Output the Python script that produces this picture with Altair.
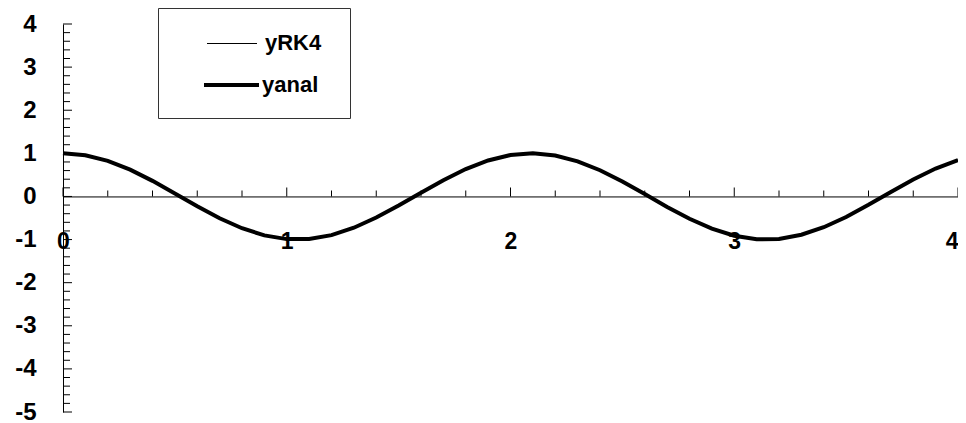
import altair as alt
import pandas as pd

# ---- data ----
x_vals = [0.0, 0.1, 0.2, 0.3, 0.4, 0.5, 0.6, 0.7, 0.8, 0.9,
          1.0, 1.1, 1.2, 1.3, 1.4, 1.5, 1.6, 1.7, 1.8, 1.9,
          2.0, 2.1, 2.2, 2.3, 2.4, 2.5, 2.6, 2.7, 2.8, 2.9,
          3.0, 3.1, 3.2, 3.3, 3.4, 3.5, 3.6, 3.7, 3.8, 3.9, 4.0]
y_rk4 = [1.000, 0.955, 0.825, 0.622, 0.362, 0.071, -0.227, -0.505, -0.737, -0.904,
         -0.990, -0.987, -0.897, -0.726, -0.490, -0.211, 0.087, 0.378, 0.635, 0.835,
         0.960, 1.000, 0.951, 0.815, 0.608, 0.347, 0.054, -0.243, -0.519, -0.747,
         -0.911, -0.994, -0.985, -0.889, -0.714, -0.476, -0.194, 0.104, 0.393, 0.647, 0.844]
y_anal = [1.000, 0.955, 0.825, 0.622, 0.362, 0.071, -0.227, -0.505, -0.737, -0.904,
          -0.990, -0.987, -0.897, -0.726, -0.490, -0.211, 0.087, 0.378, 0.635, 0.835,
          0.960, 1.000, 0.951, 0.815, 0.608, 0.347, 0.054, -0.243, -0.519, -0.747,
          -0.911, -0.994, -0.985, -0.889, -0.714, -0.476, -0.194, 0.104, 0.393, 0.647, 0.844]
series_names = ["yRK4", "yanal"]

x_major = [0, 1, 2, 3, 4]
x_minor = [0.2, 0.4, 0.6, 0.8, 1.2, 1.4, 1.6, 1.8, 2.2, 2.4, 2.6, 2.8,
           3.2, 3.4, 3.6, 3.8]
y_major = [-5, -4, -3, -2, -1, 0, 1, 2, 3, 4]
y_minor = [-4.8, -4.6, -4.4, -4.2, -3.8, -3.6, -3.4, -3.2, -2.8, -2.6, -2.4, -2.2,
           -1.8, -1.6, -1.4, -1.2, -0.8, -0.6, -0.4, -0.2, 0.2, 0.4, 0.6, 0.8,
           1.2, 1.4, 1.6, 1.8, 2.2, 2.4, 2.6, 2.8, 3.2, 3.4, 3.6, 3.8]

FONT = "Liberation Sans"
W, H = 895, 388
Y_DOMAIN = [-5, 4]

df = pd.DataFrame({"x": x_vals, "yRK4": y_rk4, "yanal": y_anal})
xs = alt.Scale(domain=[0, 4], nice=False, zero=False)
ys = alt.Scale(domain=Y_DOMAIN, nice=False, zero=False)

x_axis = alt.Axis(values=x_major, title=None, grid=False, ticks=False,
                  offset=-H * (0 - Y_DOMAIN[0]) / (Y_DOMAIN[1] - Y_DOMAIN[0]),
                  labelPadding=34, labelFont=FONT, labelFontSize=23,
                  labelFontWeight="bold", labelColor="black", labelFlush=False,
                  labelOverlap=False, domainColor="black", domainWidth=1,
                  labelExpr="'' + datum.value",
                  labelAlign={"condition": {"test": "datum.value == 4", "value": "right"},
                              "value": "center"})
y_axis = alt.Axis(values=y_major, title=None, grid=False, ticks=False,
                  labelPadding=27, labelFont=FONT, labelFontSize=24,
                  labelFontWeight="bold", labelColor="black", labelFlush=False,
                  labelOverlap=False, domainColor="black", domainWidth=1,
                  labelExpr="'' + datum.value")


def X(field):
    return alt.X(field, scale=xs, axis=x_axis)


def Y(field):
    return alt.Y(field, scale=ys, axis=y_axis)


line_rk4 = alt.Chart(df).mark_line(color="black", strokeWidth=1).encode(
    x=X("x:Q"), y=Y("yRK4:Q"))
line_anal = alt.Chart(df).mark_line(color="black", strokeWidth=4).encode(
    x=X("x:Q"), y=Y("yanal:Q"))

# axis ticks (Excel style: pointing into the plot)
xt_maj = pd.DataFrame({"t": x_major, "z": [0] * len(x_major)})
xt_min = pd.DataFrame({"t": x_minor, "z": [0] * len(x_minor)})
yt_maj = pd.DataFrame({"t": y_major, "z": [0] * len(y_major)})
yt_min = pd.DataFrame({"t": y_minor, "z": [0] * len(y_minor)})


def xticks(d, size):
    return alt.Chart(d).mark_tick(orient="vertical", size=size, thickness=1,
                                  yOffset=-size / 2, color="black", opacity=1).encode(
        x=X("t:Q"), y=Y("z:Q"))


def yticks(d, size):
    return alt.Chart(d).mark_tick(orient="horizontal", size=size, thickness=1,
                                  xOffset=size / 2, color="black", opacity=1).encode(
        y=Y("t:Q"), x=X("z:Q"))


# legend box (drawn by hand, Excel style)
one = pd.DataFrame({"a": [0]})
box = alt.Chart(one).mark_rect(fill="white", stroke="#333333", strokeWidth=1).encode(
    x=alt.value(95.5), x2=alt.value(287.5), y=alt.value(-15.5), y2=alt.value(94.5))
leg_l1 = alt.Chart(one).mark_rule(color="black", strokeWidth=1).encode(
    x=alt.value(144), x2=alt.value(194), y=alt.value(19.5))
leg_l2 = alt.Chart(one).mark_rule(color="black", strokeWidth=4).encode(
    x=alt.value(141), x2=alt.value(196), y=alt.value(61))
leg_t1 = alt.Chart(one).mark_text(align="left", baseline="middle", font=FONT, fontSize=22,
                                  fontWeight="bold", color="black").encode(
    x=alt.value(202), y=alt.value(19), text=alt.value(series_names[0]))
leg_t2 = alt.Chart(one).mark_text(align="left", baseline="middle", font=FONT, fontSize=22,
                                  fontWeight="bold", color="black").encode(
    x=alt.value(199), y=alt.value(61), text=alt.value(series_names[1]))

chart = alt.layer(
    line_rk4, xticks(xt_min, 6), xticks(xt_maj, 9), yticks(yt_min, 7), yticks(yt_maj, 9),
    line_anal, box, leg_l1, leg_l2, leg_t1, leg_t2,
).properties(
    width=W, height=H,
    padding={"left": 55, "top": 16, "right": 0, "bottom": 12},
    autosize=alt.AutoSizeParams(type="none"),
    background="white",
).configure_view(strokeWidth=0)

chart.save("out.html", embed_options={"renderer": "svg", "actions": False})
